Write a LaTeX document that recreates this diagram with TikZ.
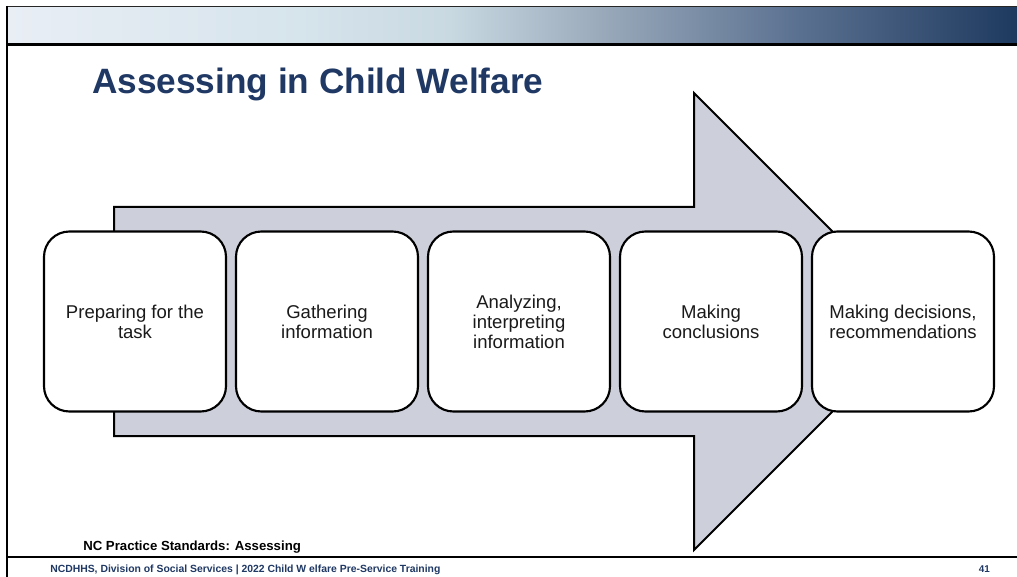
\documentclass[tikz,border=0pt]{standalone}
\usepackage{fontspec}
\setmainfont{Liberation Sans}
\definecolor{navy}{HTML}{1F3864}
\definecolor{arrowfill}{HTML}{CDD0DA}
\definecolor{g0}{HTML}{E9EEF5}
\definecolor{g1}{HTML}{D6E4EC}
\definecolor{g2}{HTML}{C9D9E2}
\definecolor{g3}{HTML}{9AAABB}
\definecolor{g4}{HTML}{5A7090}
\definecolor{g5}{HTML}{1E3A5F}
\definecolor{txt}{HTML}{1A1A1A}
\begin{document}
\begin{tikzpicture}[x=0.75pt,y=-0.75pt,
  stagebox/.style={draw=black,line width=1.6pt,fill=white,rounded corners=19pt,
    minimum width=136.5pt,minimum height=135pt,align=center,text=txt,
    font=\fontsize{13.9}{15}\selectfont,inner sep=2pt},
  frameline/.style={draw=black,line width=1.9pt},
  bigarrow/.style={draw=black,line width=1.5pt,fill=arrowfill,line join=miter}]
\useasboundingbox (0,0) rectangle (1017,577);
\fill[white] (0,0) rectangle (1017,577);
% header gradient band
\shade[left color=g0,right color=g1] (7,7) rectangle (300.5,44);
\shade[left color=g1,right color=g2] (300,7) rectangle (450.5,44);
\shade[left color=g2,right color=g3] (450,7) rectangle (600.5,44);
\shade[left color=g3,right color=g4] (600,7) rectangle (800.5,44);
\shade[left color=g4,right color=g5] (800,7) rectangle (1017,44);
\draw[draw=black!85,line width=1.3pt] (6,6.5) -- (1017,6.5);
\draw[frameline,line width=2.4pt] (6,44.5) -- (1017,44.5);
\draw[frameline] (7,6) -- (7,577);
\draw[frameline] (6,557) -- (1017,557);
% title
\node[anchor=base west,inner sep=0pt,text=navy,font=\fontsize{26.4}{30}\selectfont\bfseries]
  (title) at (92,94) {Assessing in Child Welfare};
% big arrow
\draw[bigarrow] (114,207) -- (694,207) -- (694,93) -- (922.5,321.5) -- (694,550) -- (694,436) -- (114,436) -- cycle;
% stages
\node[stagebox] (s1) at (135,321.5) {Preparing for the\\task};
\node[stagebox] (s2) at (327,321.5) {Gathering\\information};
\node[stagebox] (s3) at (519,321.5) {Analyzing,\\interpreting\\information};
\node[stagebox] (s4) at (711,321.5) {Making\\conclusions};
\node[stagebox] (s5) at (903,321.5) {Making decisions,\\recommendations};
% footers
\node[anchor=base west,inner sep=0pt,font=\fontsize{9.9}{11}\selectfont\bfseries,text=black]
  (std) at (83,550) {NC Practice Standards: Assessing};
\node[anchor=base west,inner sep=0pt,font=\fontsize{7.8}{9}\selectfont\bfseries,text=navy]
  (foot) at (50,572) {NCDHHS, Division of Social Services | 2022 Child W elfare Pre-Service Training};
\node[anchor=base east,inner sep=0pt,font=\fontsize{7.4}{9}\selectfont\bfseries,text=navy]
  (page) at (990,572) {41};
\end{tikzpicture}
\end{document}
